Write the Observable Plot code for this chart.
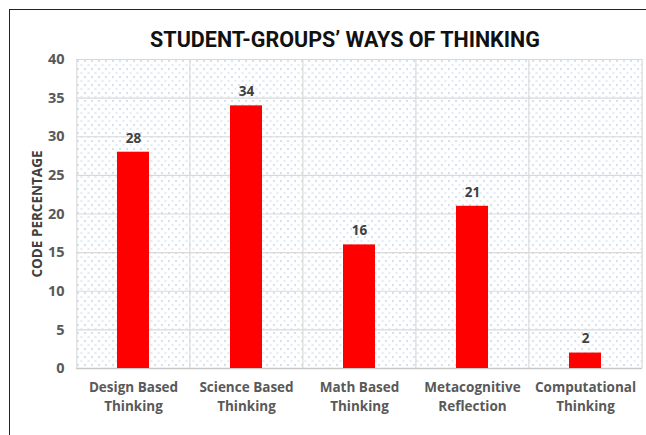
<!DOCTYPE html>
<html>
<head>
<meta charset="utf-8">
<script src="https://cdn.jsdelivr.net/npm/d3@7"></script>
<script src="https://cdn.jsdelivr.net/npm/@observablehq/plot@0.6"></script>
<style>
  html, body { margin: 0; padding: 0; background: #fff; }
  #wrap { position: relative; width: 646px; height: 435px; overflow: hidden; }
  #frame { position: absolute; left: 9px; top: 9px; width: 700px; height: 500px;
           border-left: 1.5px solid #222; border-top: 1.5px solid #222; }
  #title { position: absolute; left: 10px; width: 670px; top: 27px; text-align: center;
           font-family: Roboto, "Liberation Sans", sans-serif; font-weight: 700; font-size: 21.5px;
           color: #111; letter-spacing: 0px; }
  #chart { position: absolute; left: 0; top: 0; }
</style>
</head>
<body>
<div id="wrap">
  <div id="chart"></div>
  <div id="frame"></div>
  <div id="title">STUDENT-GROUPS’ WAYS OF THINKING</div>
</div>
<script>
const categories = ["Design Based Thinking", "Science Based Thinking", "Math Based Thinking", "Metacognitive Reflection", "Computational Thinking"];
const tickLabels = ["Design Based\nThinking", "Science Based\nThinking", "Math Based\nThinking", "Metacognitive\nReflection", "Computational\nThinking"];
const values = [28, 34, 16, 21, 2];
const yTicks = [0, 5, 10, 15, 20, 25, 30, 35, 40];

const data = categories.map((c, i) => ({category: c, value: values[i]}));
const labelOf = new Map(categories.map((c, i) => [c, tickLabels[i]]));

const W = 646, H = 435, mL = 76, mR = 4, mT = 59, mB = 67;
const step = (W - mL - mR) / categories.length;
const font = "'Open Sans', 'Liberation Sans', sans-serif";

const chart = Plot.plot({
  width: W, height: H,
  marginLeft: mL, marginRight: mR, marginTop: mT, marginBottom: mB,
  style: {fontFamily: font, background: "transparent", overflow: "visible"},
  x: {domain: categories, paddingInner: 0.72, paddingOuter: 0.36},
  y: {domain: [0, 40]},
  marks: [
    Plot.frame({fill: "url(#dotpat)", stroke: "none"}),
    Plot.ruleY(yTicks.filter(d => d > 0), {stroke: "#d9d9d9", strokeWidth: 1.2}),
    Plot.ruleX(categories, {x: d => d, dx: -step / 2, stroke: "#d9d9d9", strokeWidth: 1.2}),
    Plot.ruleX(categories.slice(-1), {x: d => d, dx: step / 2, stroke: "#d9d9d9", strokeWidth: 1.2}),
    Plot.ruleY([0], {stroke: "#c8c8c8", strokeWidth: 1.5}),
    Plot.barY(data, {x: "category", y: "value", fill: "#ff0000"}),
    Plot.text(data, {x: "category", y: "value", text: d => String(d.value), dy: -14,
      fill: "#404040", fontWeight: 700, fontSize: 13.5}),
    Plot.axisY({ticks: yTicks, tickSize: 0, tickPadding: 12, fontSize: 14.5, fontWeight: 700,
      color: "#595959", label: "CODE PERCENTAGE", labelAnchor: "center", labelArrow: "none",
      labelOffset: 44}),
    Plot.axisX({tickSize: 0, tickPadding: 10, fontSize: 13.5, fontWeight: 700, color: "#595959",
      tickFormat: d => labelOf.get(d), lineHeight: 1.42, label: null})
  ]
});

document.getElementById("chart").appendChild(chart);

// dotted background pattern
const svg = d3.select(chart);
const defs = svg.insert("defs", ":first-child");
const pat = defs.append("pattern").attr("id", "dotpat").attr("patternUnits", "userSpaceOnUse")
  .attr("width", 7).attr("height", 8).attr("x", mL).attr("y", mT);
pat.append("rect").attr("x", 1).attr("y", 1).attr("width", 1).attr("height", 1).attr("fill", "#4f8db8");
pat.append("rect").attr("x", 4.5).attr("y", 5).attr("width", 1).attr("height", 1).attr("fill", "#7fb0d2");

// style the y-axis label
svg.selectAll("[aria-label='y-axis label'] text")
  .attr("font-size", 13.5).attr("font-weight", 700).attr("fill", "#404040");
</script>
</body>
</html>
